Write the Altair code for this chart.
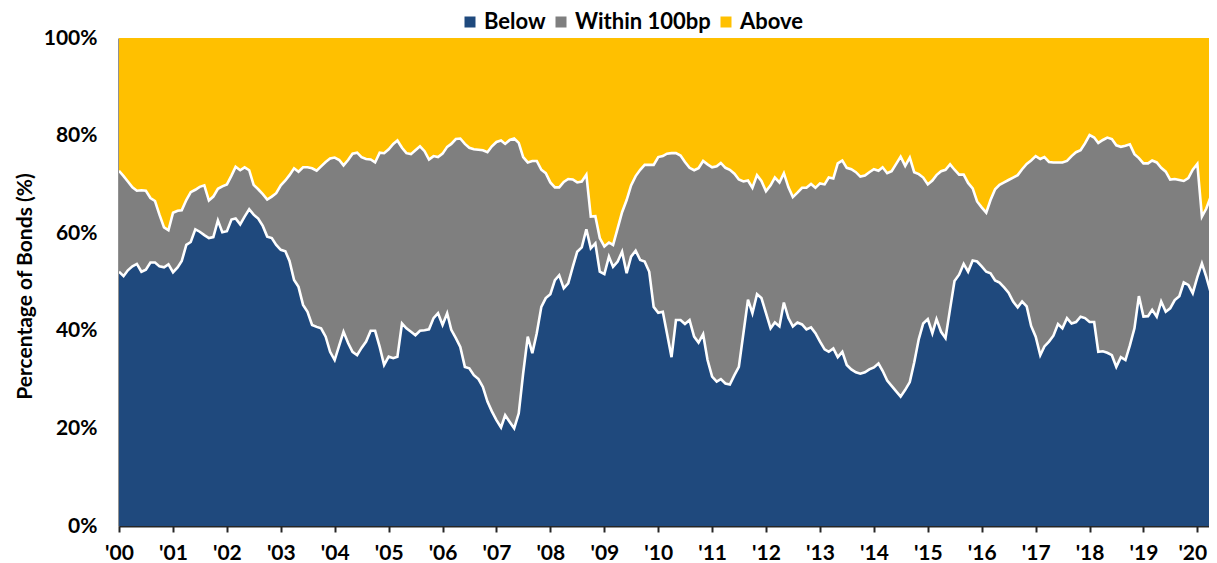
import altair as alt
import pandas as pd

# Share of bonds (%) by band, monthly Jan-2000 .. May-2020
# "below" = share Below; "below_within" = cumulative share Below + Within 100bp
below_2000 = [52.1, 51.2, 52.4, 53.2, 53.7, 52.1, 52.5, 54.0, 54.0, 53.2, 53.0, 53.6]
below_2001 = [52.0, 53.0, 54.3, 57.6, 58.2, 60.8, 60.3, 59.6, 59.0, 59.2, 62.6, 60.2]
below_2002 = [60.4, 62.8, 63.0, 61.8, 63.4, 64.9, 63.8, 63.0, 61.5, 59.3, 59.0, 57.6]
below_2003 = [56.6, 56.3, 54.3, 50.4, 49.0, 45.3, 43.9, 41.2, 40.8, 40.5, 38.8, 35.7]
below_2004 = [34.0, 37.0, 39.8, 37.5, 35.7, 35.0, 36.5, 37.8, 40.0, 40.0, 36.7, 33.0]
below_2005 = [34.7, 34.4, 34.7, 41.5, 40.5, 39.8, 39.1, 40.0, 40.1, 40.3, 42.6, 43.6]
below_2006 = [41.2, 43.6, 40.2, 38.5, 36.7, 32.6, 32.3, 30.9, 30.1, 28.5, 25.5, 23.5]
below_2007 = [21.7, 20.2, 22.7, 21.3, 20.0, 23.1, 31.3, 38.8, 35.4, 39.5, 44.9, 46.7]
below_2008 = [47.5, 50.4, 51.4, 48.7, 49.7, 53.1, 56.2, 57.1, 60.8, 56.9, 57.9, 52.1]
below_2009 = [51.6, 55.2, 53.1, 54.2, 56.2, 51.8, 55.2, 56.4, 54.5, 54.2, 52.1, 44.9]
below_2010 = [43.7, 43.9, 39.5, 34.6, 42.2, 42.2, 41.4, 42.2, 38.8, 37.6, 39.3, 34.0]
below_2011 = [30.6, 29.6, 30.1, 29.2, 29.0, 30.9, 32.6, 39.5, 46.4, 43.6, 47.5, 46.7]
below_2012 = [43.6, 40.5, 41.7, 40.9, 45.8, 42.6, 40.9, 41.7, 41.3, 40.3, 40.7, 39.5]
below_2013 = [37.8, 36.2, 35.7, 36.4, 34.6, 35.7, 33.0, 32.1, 31.5, 31.2, 31.5, 32.1]
below_2014 = [32.5, 33.3, 31.8, 29.8, 28.7, 27.6, 26.5, 27.9, 29.5, 33.5, 38.3, 41.5]
below_2015 = [42.4, 39.5, 42.4, 39.8, 38.5, 44.5, 50.2, 51.5, 53.7, 52.1, 54.4, 54.2]
below_2016 = [53.2, 52.1, 51.8, 50.3, 49.9, 48.9, 47.8, 46.0, 44.8, 46.0, 45.0, 41.0]
below_2017 = [38.8, 35.0, 36.8, 37.8, 39.0, 41.4, 40.5, 42.6, 41.5, 41.8, 42.9, 42.6]
below_2018 = [41.8, 41.8, 35.7, 35.8, 35.5, 35.0, 32.6, 34.6, 34.0, 37.0, 40.5, 47.1]
below_2019 = [42.9, 43.0, 44.3, 42.9, 46.0, 43.9, 44.6, 46.3, 47.1, 49.9, 49.4, 47.7]
below_2020 = [51.0, 53.8, 51.1, 47.8, 48.5]

below_within_2000 = [72.8, 71.7, 70.6, 69.4, 68.7, 68.8, 68.7, 67.2, 66.6, 63.8, 61.2, 60.6]
below_within_2001 = [64.2, 64.6, 64.7, 66.8, 68.4, 68.9, 69.5, 69.8, 66.7, 67.5, 69.1, 69.6]
below_within_2002 = [70.0, 71.8, 73.6, 72.9, 73.5, 72.9, 69.9, 69.0, 68.0, 66.9, 67.5, 68.2]
below_within_2003 = [69.8, 70.8, 71.9, 73.3, 72.6, 73.5, 73.5, 73.3, 72.8, 73.7, 74.6, 75.3]
below_within_2004 = [75.5, 75.0, 73.9, 75.0, 76.3, 76.5, 75.6, 75.2, 75.1, 74.5, 76.5, 76.4]
below_within_2005 = [77.2, 78.3, 79.0, 77.5, 76.4, 76.2, 77.0, 77.8, 76.8, 75.1, 75.8, 75.6]
below_within_2006 = [76.3, 77.7, 78.3, 79.3, 79.4, 78.3, 77.5, 77.2, 77.1, 77.0, 76.6, 77.8]
below_within_2007 = [78.7, 79.0, 78.3, 79.1, 79.4, 78.5, 75.6, 74.5, 74.8, 74.8, 73.0, 72.3]
below_within_2008 = [70.4, 69.4, 69.4, 70.5, 71.1, 71.0, 70.4, 70.6, 72.0, 63.4, 63.5, 59.0]
below_within_2009 = [57.3, 58.1, 57.6, 61.0, 64.3, 66.8, 69.8, 71.7, 73.0, 74.0, 74.0, 74.0]
below_within_2010 = [75.6, 75.8, 76.3, 76.4, 76.4, 75.9, 74.6, 73.4, 72.9, 73.3, 74.8, 74.1]
below_within_2011 = [73.5, 73.7, 74.4, 73.4, 73.0, 72.2, 71.0, 70.6, 70.8, 69.3, 71.9, 70.7]
below_within_2012 = [68.6, 69.8, 71.4, 70.4, 72.3, 69.4, 67.4, 68.3, 69.3, 69.3, 70.1, 69.3]
below_within_2013 = [70.2, 70.0, 71.4, 71.2, 74.3, 74.9, 73.4, 73.1, 72.5, 71.6, 71.8, 72.5]
below_within_2014 = [73.1, 72.8, 73.5, 72.3, 72.7, 74.2, 75.7, 73.8, 75.5, 72.5, 72.1, 71.4]
below_within_2015 = [70.0, 70.8, 71.9, 72.7, 73.0, 74.1, 73.0, 72.0, 72.0, 70.3, 69.2, 66.5]
below_within_2016 = [65.3, 64.2, 66.8, 69.0, 69.9, 70.4, 70.9, 71.4, 71.9, 73.1, 74.2, 74.9]
below_within_2017 = [75.8, 75.2, 75.6, 74.6, 74.5, 74.5, 74.5, 74.8, 75.8, 76.6, 77.0, 78.4]
below_within_2018 = [80.1, 79.6, 78.5, 79.1, 79.6, 79.3, 78.0, 77.7, 77.9, 78.2, 76.2, 75.4]
below_within_2019 = [74.3, 74.3, 74.9, 74.5, 73.4, 72.6, 71.0, 71.1, 70.9, 70.7, 71.3, 73.0]
below_within_2020 = [74.2, 63.4, 65.0, 67.5, 70.9]

series_names = ["Below", "Within 100bp", "Above"]
series_colors = ["#1F497D", "#7F7F7F", "#FFC000"]
y_ticks = [0, 20, 40, 60, 80, 100]

below = (below_2000 + below_2001 + below_2002 + below_2003 + below_2004 + below_2005
         + below_2006 + below_2007 + below_2008 + below_2009 + below_2010 + below_2011
         + below_2012 + below_2013 + below_2014 + below_2015 + below_2016 + below_2017
         + below_2018 + below_2019 + below_2020)
below_within = (below_within_2000 + below_within_2001 + below_within_2002 + below_within_2003
                + below_within_2004 + below_within_2005 + below_within_2006 + below_within_2007
                + below_within_2008 + below_within_2009 + below_within_2010 + below_within_2011
                + below_within_2012 + below_within_2013 + below_within_2014 + below_within_2015
                + below_within_2016 + below_within_2017 + below_within_2018 + below_within_2019
                + below_within_2020)
assert len(below) == len(below_within)

dates = pd.date_range("2000-01-01", periods=len(below), freq="MS")

rows = []
for d, b, c in zip(dates, below, below_within):
    rows.append({"date": d, "series": "Below", "lo": 0.0, "hi": b})
    rows.append({"date": d, "series": "Within 100bp", "lo": b, "hi": c})
    rows.append({"date": d, "series": "Above", "lo": c, "hi": 100.0})
areas_df = pd.DataFrame(rows)

line_rows = []
for d, b, c in zip(dates, below, below_within):
    line_rows.append({"date": d, "edge": "b", "v": b})
    line_rows.append({"date": d, "edge": "c", "v": c})
lines_df = pd.DataFrame(line_rows)

FONT = "Lato"
# the reference plot is cut off at the right edge of the picture: the visible
# window ends a little before the last month, the rest is clipped
x_scale = alt.Scale(domain=[alt.DateTime(year=2000, month=1, date=1),
                            alt.DateTime(year=2020, month=3, date=20)])
y_scale = alt.Scale(domain=[0, 100], nice=False)

x_axis = alt.Axis(
    format="'%y", tickCount={"interval": "year", "step": 1}, title=None,
    grid=False, domain=True, domainColor="#262626", domainWidth=2,
    ticks=True, tickColor="#262626", tickWidth=2, tickSize=6,
    labelFont=FONT, labelFontSize=21, labelFontWeight="bold", labelColor="black",
    labelPadding=10, labelFlush=False, labelOverlap=False,
    labelOffset={"condition": {"test": "year(datum.value) >= 2020", "value": -5}, "value": 0},
)
y_axis = alt.Axis(
    values=y_ticks, labelExpr="datum.value + '%'", title="Percentage of Bonds (%)",
    grid=False, domain=True, domainColor="#262626", domainWidth=2,
    ticks=False, tickSize=0, labelPadding=22,
    labelFont=FONT, labelFontSize=21, labelFontWeight="bold", labelColor="black",
    titleFont=FONT, titleFontSize=21, titleFontWeight="bold", titleColor="black",
    titlePadding=8, titleY=248,
)

areas = alt.Chart(areas_df).mark_area(opacity=1, clip=True).encode(
    x=alt.X("date:T", scale=x_scale, axis=x_axis),
    y=alt.Y("hi:Q", scale=y_scale, axis=y_axis),
    y2="lo:Q",
    color=alt.Color(
        "series:N",
        scale=alt.Scale(domain=series_names, range=series_colors),
        sort=series_names,
        legend=alt.Legend(
            orient="none", legendX=340, legendY=-27, direction="horizontal", title=None,
            symbolType="square", symbolSize=121, symbolStrokeWidth=0, symbolOpacity=1,
            labelFont=FONT, labelFontSize=22, labelFontWeight="bold", labelColor="black",
            labelOffset=3, columnPadding=4,
        ),
    ),
)

lines = alt.Chart(lines_df).mark_line(color="white", strokeWidth=2.6, clip=True).encode(
    x=alt.X("date:T", scale=x_scale),
    y=alt.Y("v:Q", scale=y_scale),
    detail="edge:N",
)

chart = alt.layer(areas, lines).properties(
    width=1090, height=488,
    autosize=alt.AutoSizeParams(type="none"),
    padding={"left": 111, "top": 30, "right": 0, "bottom": 40},
).configure_view(stroke=None).configure(background="white")

chart.save("out.html", embed_options={"renderer": "svg", "actions": False})
